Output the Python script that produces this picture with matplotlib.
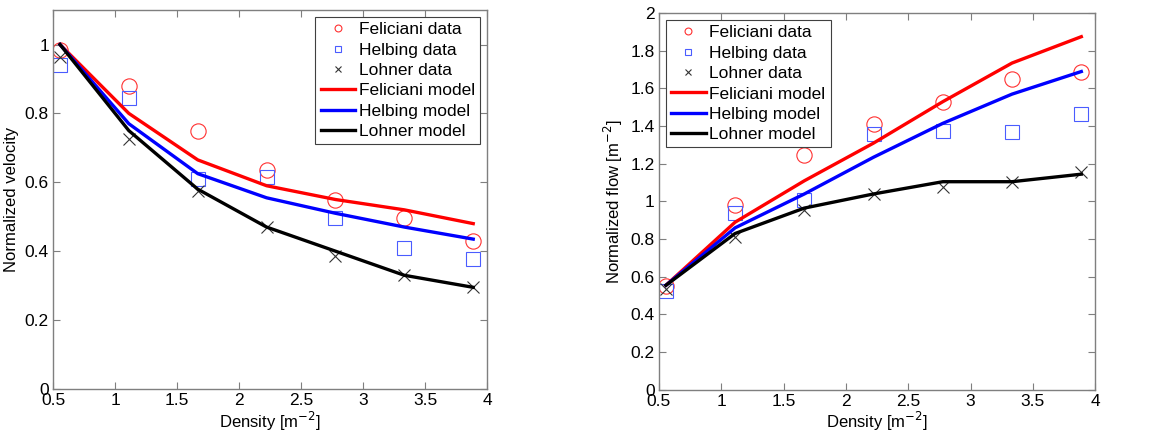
import matplotlib
matplotlib.use("Agg")
import matplotlib.pyplot as plt
from matplotlib.ticker import FuncFormatter, MultipleLocator

plt.rcParams['font.family'] = ['Liberation Sans', 'DejaVu Sans']

# Data
density = [0.556, 1.111, 1.667, 2.222, 2.778, 3.333, 3.889]

# Normalized velocity (left panel)
vel_feliciani_data = [0.985, 0.88, 0.75, 0.635, 0.55, 0.495, 0.43]
vel_helbing_data = [0.94, 0.845, 0.61, 0.615, 0.495, 0.41, 0.378]
vel_lohner_data = [0.965, 0.725, 0.575, 0.47, 0.385, 0.33, 0.295]
vel_feliciani_model = [1.0, 0.80, 0.665, 0.59, 0.55, 0.52, 0.48]
vel_helbing_model = [1.0, 0.77, 0.625, 0.555, 0.51, 0.47, 0.435]
vel_lohner_model = [1.0, 0.75, 0.58, 0.47, 0.40, 0.33, 0.295]

# Normalized flow (right panel)
flow_feliciani_data = [0.55, 0.98, 1.245, 1.41, 1.53, 1.65, 1.685]
flow_helbing_data = [0.525, 0.94, 1.01, 1.36, 1.375, 1.37, 1.465]
flow_lohner_data = [0.535, 0.81, 0.955, 1.04, 1.075, 1.105, 1.155]
flow_feliciani_model = [0.555, 0.89, 1.11, 1.31, 1.53, 1.735, 1.875]
flow_helbing_model = [0.555, 0.86, 1.04, 1.235, 1.415, 1.57, 1.69]
flow_lohner_model = [0.555, 0.83, 0.965, 1.04, 1.105, 1.105, 1.145]

FS = 12.5
spine_col = '#7f7f7f'

fig = plt.figure(figsize=(11.54, 4.38), dpi=100)
ax1 = fig.add_axes([0.046, 0.112, 0.376, 0.865])
ax2 = fig.add_axes([0.571, 0.110, 0.378, 0.860])


def draw_panel(ax, fd, hd, ld, fm, hm, lm):
    ax.plot(density, fd, linestyle='none', marker='o', markersize=11,
            markerfacecolor='none', markeredgecolor='#ff3030', markeredgewidth=0.8,
            label='Feliciani data')
    ax.plot(density, hd, linestyle='none', marker='s', markersize=10,
            markerfacecolor='none', markeredgecolor='#4a5cff', markeredgewidth=0.8,
            label='Helbing data')
    ax.plot(density, ld, linestyle='none', marker='x', markersize=9,
            color='#333333', markeredgewidth=0.8, label='Lohner data')
    ax.plot(density, fm, color='#ff0000', linewidth=2.4, label='Feliciani model')
    ax.plot(density, hm, color='#0000ff', linewidth=2.4, label='Helbing model')
    ax.plot(density, lm, color='black', linewidth=2.4, label='Lohner model')

    ax.set_xlim(0.5, 4)
    ax.xaxis.set_major_locator(MultipleLocator(0.5))
    ax.xaxis.set_major_formatter(FuncFormatter(lambda v, p: '%g' % v))
    ax.yaxis.set_major_formatter(FuncFormatter(lambda v, p: '%g' % v))
    ax.set_xlabel('Density [m$^{-2}$]', fontsize=FS - 0.5, labelpad=1)
    ax.tick_params(direction='in', top=True, right=True, labelsize=FS,
                   color=spine_col, length=5, pad=3)
    for s in ax.spines.values():
        s.set_color(spine_col)
        s.set_linewidth(1.0)


draw_panel(ax1, vel_feliciani_data, vel_helbing_data, vel_lohner_data,
           vel_feliciani_model, vel_helbing_model, vel_lohner_model)
ax1.set_ylim(0, 1.1)
ax1.set_yticks([0, 0.2, 0.4, 0.6, 0.8, 1.0])
ax1.set_ylabel('Normalized velocity', fontsize=FS - 0.5, labelpad=4)
leg1 = ax1.legend(loc='upper right', fontsize=FS, markerscale=0.45,
                  fancybox=False, handlelength=2.0, handletextpad=0.2,
                  labelspacing=0.3, borderpad=0.3, borderaxespad=0.4)

draw_panel(ax2, flow_feliciani_data, flow_helbing_data, flow_lohner_data,
           flow_feliciani_model, flow_helbing_model, flow_lohner_model)
ax2.set_ylim(0, 2)
ax2.yaxis.set_major_locator(MultipleLocator(0.2))
ax2.set_ylabel('Normalized flow [m$^{-2}$]', fontsize=FS - 0.5, labelpad=4)
leg2 = ax2.legend(loc='upper left', fontsize=FS, markerscale=0.45,
                  fancybox=False, handlelength=2.0, handletextpad=0.2,
                  labelspacing=0.3, borderpad=0.3, borderaxespad=0.4)

for leg in (leg1, leg2):
    fr = leg.get_frame()
    fr.set_edgecolor('#404040')
    fr.set_linewidth(0.8)
    fr.set_alpha(1)

fig.savefig('out.png', dpi=100)
